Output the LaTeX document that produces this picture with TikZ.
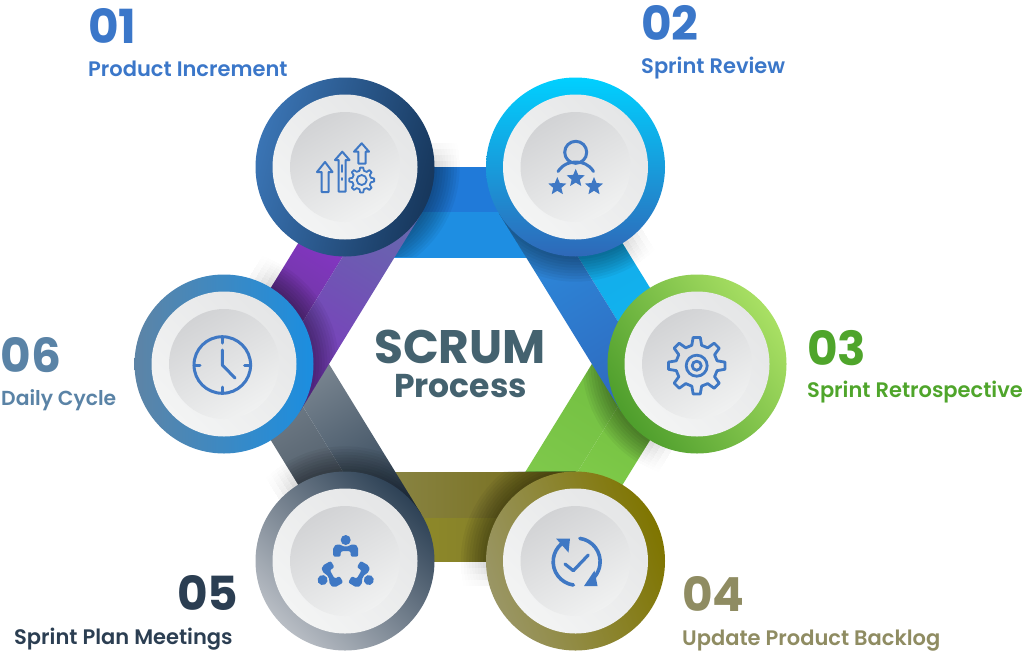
\documentclass[tikz,border=0pt]{standalone}
\usepackage{fontspec}
\setmainfont{Poppins}
\newfontfamily\labfont{Poppins SemiBold}
\usetikzlibrary{calc}
\definecolor{iconblue}{HTML}{3F78C4}
\definecolor{E6}{HTML}{E5E6E7}\definecolor{F2}{HTML}{F3F4F4}
\definecolor{D2}{HTML}{D2D3D5}\definecolor{F0}{HTML}{F0F1F1}
\definecolor{ta}{HTML}{1F78D8}\definecolor{tb}{HTML}{1E8EE2}
\definecolor{pa}{HTML}{9234D8}\definecolor{pb}{HTML}{5F3A8C}\definecolor{pc}{HTML}{6767AE}\definecolor{pd}{HTML}{7D38BE}
\definecolor{ba}{HTML}{15A5E8}\definecolor{bb}{HTML}{10B8F0}\definecolor{bc}{HTML}{2C8EDF}\definecolor{bd}{HTML}{2F6BC0}
\definecolor{ga}{HTML}{6DBB3A}\definecolor{gb}{HTML}{86D050}\definecolor{gc}{HTML}{6FBD3E}\definecolor{gd}{HTML}{82CB4E}
\definecolor{oa}{HTML}{8E8A4E}\definecolor{ob}{HTML}{736A15}\definecolor{oc}{HTML}{96912A}\definecolor{od}{HTML}{7C7728}
\definecolor{ya}{HTML}{7F8A94}\definecolor{yb}{HTML}{3E4C5A}\definecolor{yc}{HTML}{8A949D}\definecolor{yd}{HTML}{2E4256}
\definecolor{r1a}{HTML}{3A74B4}\definecolor{r1b}{HTML}{17375C}
\definecolor{r2a}{HTML}{00D0FF}\definecolor{r2b}{HTML}{2F68B8}
\definecolor{r3a}{HTML}{A9E064}\definecolor{r3b}{HTML}{4E9E2C}
\definecolor{r4a}{HTML}{9A9665}\definecolor{r4b}{HTML}{7F7500}
\definecolor{r5a}{HTML}{B8BDC4}\definecolor{r5b}{HTML}{2E4256}
\definecolor{r6a}{HTML}{5D84A6}\definecolor{r6b}{HTML}{1B8EE0}
\definecolor{t1}{HTML}{3B77C9}\definecolor{t3}{HTML}{4FA52B}\definecolor{t4}{HTML}{8F8C62}
\definecolor{t5}{HTML}{2B3E52}\definecolor{t6}{HTML}{5A83A6}\definecolor{tc}{HTML}{44626F}
\tikzset{
  ring/.style={circle,inner sep=0pt,minimum size=179pt},
  outerdisc/.style={circle,inner sep=0pt,minimum size=145pt,top color=E6,bottom color=F2,shading angle=-45},
  innerdisc/.style={circle,inner sep=0pt,minimum size=110pt,top color=D2,bottom color=F0,shading angle=30},
  ico/.style={draw=iconblue,line width=2.6pt,line cap=round,line join=round},
  icofill/.style={fill=iconblue,draw=none},
  numtxt/.style={anchor=base west,inner sep=0pt,font=\fontsize{47}{47}\selectfont\bfseries},
  labtxt/.style={anchor=base west,inner sep=0pt,font=\fontsize{21}{21}\selectfont\labfont},
}
% A, B, nx, ny, w0, w1
\newcommand{\bandpath}[6]{($(#1)+(#5*#3,#5*#4)$) -- ($(#2)+(#5*#3,#5*#4)$) -- ($(#2)+(#6*#3,#6*#4)$) -- ($(#1)+(#6*#3,#6*#4)$) -- cycle}
% centre, A, B, nx, ny  : dark shadow on a band
\newcommand{\bandshadow}[5]{\begin{scope}\clip \bandpath{#2}{#3}{#4}{#5}{0}{89.5};
  \foreach \k in {0,...,9}{\fill[black,opacity=.045] (#1) circle ({89.5+\k*2.8});}\end{scope}}
% centre, A, B, nx, ny : faint halo just outside a band
\newcommand{\bandhalo}[5]{\foreach \w in {-6,-12,-18,-24}{\begin{scope}\clip \bandpath{#2}{#3}{#4}{#5}{\w}{0};
  \foreach \k in {0,...,9}{\fill[black,opacity=.005] (#1) circle ({89.5+\k*2.8});}\end{scope}}}
\newcommand{\cogicon}[5]{%
  \foreach \i in {1,...,#5}{
    \pgfmathsetmacro{\st}{360/#5}
    \pgfmathsetmacro{\aa}{(\i-1)*\st-0.30*\st}
    \pgfmathsetmacro{\ab}{(\i-1)*\st-0.16*\st}
    \pgfmathsetmacro{\ac}{(\i-1)*\st+0.16*\st}
    \pgfmathsetmacro{\ad}{(\i-1)*\st+0.30*\st}
    \pgfmathsetmacro{\ae}{\i*\st-0.30*\st}
    \draw[ico] ($(#1,#2)+(\aa:#4)$) -- ($(#1,#2)+(\ab:#3)$) -- ($(#1,#2)+(\ac:#3)$) -- ($(#1,#2)+(\ad:#4)$) -- ($(#1,#2)+(\ae:#4)$);
  }}
\newcommand{\starshape}[3]{%
  \fill[icofill] ($(#1,#2)+(-90:#3)$) -- ($(#1,#2)+(-54:#3*0.45)$) -- ($(#1,#2)+(-18:#3)$) -- ($(#1,#2)+(18:#3*0.45)$) -- ($(#1,#2)+(54:#3)$) -- ($(#1,#2)+(90:#3*0.45)$) -- ($(#1,#2)+(126:#3)$) -- ($(#1,#2)+(162:#3*0.45)$) -- ($(#1,#2)+(198:#3)$) -- ($(#1,#2)+(234:#3*0.45)$) -- cycle;}
\begin{document}
\begin{tikzpicture}[x=1pt,y=-1pt]
\useasboundingbox (0,0) rectangle (1024,651);
\coordinate (p1) at (345,167);
\coordinate (p2) at (575.5,167);
\coordinate (p3) at (697,364);
\coordinate (p4) at (575.5,561);
\coordinate (p5) at (345,561);
\coordinate (p6) at (224,364);
% halos on the white ground
\bandhalo{p1}{p1}{p2}{0}{1}
\bandhalo{p2}{p2}{p3}{-0.852}{0.523}
\bandhalo{p3}{p3}{p4}{-0.852}{-0.523}
\bandhalo{p4}{p4}{p5}{0}{-1}
\bandhalo{p5}{p5}{p6}{0.852}{-0.523}
\bandhalo{p6}{p6}{p1}{0.852}{0.523}
% top band
\shade[top color=ta,bottom color=ta!85!bc,shading angle=90] \bandpath{p1}{p2}{0}{1}{0}{45};
\shade[top color=tb,bottom color=tb,shading angle=90] \bandpath{p1}{p2}{0}{1}{45}{90};
\bandshadow{p1}{p1}{p2}{0}{1}
% green band
\shade[top color=ga,bottom color=gb,shading angle=-31.6] \bandpath{p3}{p4}{-0.852}{-0.523}{0}{45};
\shade[top color=gc,bottom color=gd,shading angle=-31.6] \bandpath{p3}{p4}{-0.852}{-0.523}{45}{89.5};
\bandshadow{p3}{p3}{p4}{-0.852}{-0.523}
% olive band
\shade[top color=oc,bottom color=od,shading angle=90] \bandpath{p5}{p4}{0}{-1}{0}{44};
\shade[top color=oa,bottom color=ob,shading angle=90] \bandpath{p5}{p4}{0}{-1}{44}{89};
\bandshadow{p4}{p5}{p4}{0}{-1}
% gray band
\shade[top color=ya,bottom color=yb,shading angle=31.6] \bandpath{p6}{p5}{0.852}{-0.523}{0}{45};
\shade[top color=yc,bottom color=yd,shading angle=31.6] \bandpath{p6}{p5}{0.852}{-0.523}{45}{89.5};
\bandshadow{p5}{p6}{p5}{0.852}{-0.523}
% purple band
\shade[top color=pa,bottom color=pb,shading angle=-31.6] \bandpath{p1}{p6}{0.852}{0.523}{0}{45};
\shade[top color=pc,bottom color=pd,shading angle=-31.6] \bandpath{p1}{p6}{0.852}{0.523}{45}{89.5};
\bandshadow{p6}{p1}{p6}{0.852}{0.523}
% blue band
\shade[top color=ba,bottom color=bb,shading angle=31.6] \bandpath{p2}{p3}{-0.852}{0.523}{0}{45};
\shade[top color=bc,bottom color=bd,shading angle=31.6] \bandpath{p2}{p3}{-0.852}{0.523}{45}{89.5};
\bandshadow{p2}{p2}{p3}{-0.852}{0.523}
% rings
\node[ring,top color=r1a,bottom color=r1b,shading angle=75] (c1) at (p1) {};
\node[ring,top color=r2a,bottom color=r2b,shading angle=0] (c2) at (p2) {};
\node[ring,top color=r3a,bottom color=r3b,shading angle=-55] (c3) at (p3) {};
\node[ring,top color=r4a,bottom color=r4b,shading angle=110] (c4) at (p4) {};
\node[ring,top color=r5a,bottom color=r5b,shading angle=135] (c5) at (p5) {};
\node[ring,top color=r6a,bottom color=r6b,shading angle=90] (c6) at (p6) {};
\foreach \n in {1,...,6}{
  \node[outerdisc] (d\n) at (p\n) {};
  \node[innerdisc] (e\n) at (p\n) {};
}
% icon 1: arrows and cog
\draw[ico,line width=2pt] (321.7,192) -- (321.7,172) -- (317,172) -- (325,162) -- (332.5,172) -- (328.5,172) -- (328.5,192) -- cycle;
\draw[ico,line width=2pt] (338.7,191.5) -- (338.7,160) -- (335,160) -- (342.3,151.7) -- (349.5,160) -- (345.5,160) -- (345.5,191.5) -- cycle;
\draw[ico,line width=1.6pt] (342.2,165) -- (342.2,172) (342.2,178) -- (342.2,180);
\draw[ico,line width=2pt] (358.3,163.5) -- (358.3,151.7) -- (354,151.7) -- (361.7,143.3) -- (369,151.7) -- (365.7,151.7) -- (365.7,163.5) -- cycle;
\begin{scope}[ico/.append style={line width=1.8pt}]
\cogicon{361.7}{180}{12.5}{9.5}{8}
\draw[ico] (361.7,180) circle (5);
\end{scope}
% icon 2: person and stars
\draw[ico,line width=3pt] (575.7,152.3) circle (11);
\draw[ico,line width=3pt] (558,171.5) .. controls (563,164) and (570,162) .. (575.7,162) .. controls (582,162) and (589,164) .. (593.5,171.5);
\starshape{575.7}{178.3}{9.5}
\starshape{557.3}{186.5}{9.5}
\starshape{594}{186.5}{9.5}
% icon 3: gear
\begin{scope}[ico/.append style={line width=2.8pt}]
\cogicon{696.7}{365.7}{28.5}{21}{8}
\draw[ico] (696.7,365.7) circle (10.5);
\draw[ico] (696.7,365.7) circle (4.5);
\end{scope}
% icon 4: cycle and check
\draw[ico,line width=3.6pt] (579.9,538.4) arc (-82:40:23.5);
\draw[ico,line width=3.6pt] (573.4,585) arc (98:228:23.5);
\fill[icofill] (584,586) -- (597.5,586) -- (594.5,570.5) -- cycle;
\fill[icofill] (556,538.5) -- (570,538.5) -- (568.5,552.5) -- cycle;
\draw[ico,line width=3.2pt] (565,564) -- (573.3,570.7) -- (588.3,555);
% icon 5: three people
\foreach \rot in {0,120,240}{
  \begin{scope}[shift={(345.7,566.7)},rotate=\rot]
    \fill[icofill] (0,-26.7) circle (5);
    \fill[icofill,rounded corners=2pt] (-12.5,-10) -- (-12.5,-20) -- (-8,-23) -- (0,-19.5) -- (8,-23) -- (12.5,-20) -- (12.5,-10) -- (5,-10) -- (5,-15.5) -- (-5,-15.5) -- (-5,-10) -- cycle;
  \end{scope}
}
% icon 6: clock
\draw[ico,line width=3pt] (222.3,365) circle (28.3);
\draw[ico,line width=3pt] (222.3,337) -- (222.3,343) (222.3,393) -- (222.3,387) (194,365) -- (200,365) (250.6,365) -- (244.6,365);
\draw[ico,line width=3pt] (222.3,350) -- (222.3,365) -- (235,378);
% texts
\node[numtxt,text=t1] (n1) at (88,43) {01};
\node[labtxt,text=t1] (l1) at (88,76) {Product Increment};
\node[numtxt,text=t1] (n2) at (641,40) {02};
\node[labtxt,text=t1] (l2) at (641,73.5) {Sprint Review};
\node[numtxt,text=t3] (n3) at (807,365) {03};
\node[labtxt,text=t3] (l3) at (807,397) {Sprint Retrospective};
\node[numtxt,text=t4] (n4) at (682,611) {04};
\node[labtxt,text=t4] (l4) at (682,645) {Update Product Backlog};
\node[numtxt,text=t5] (n5) at (177,610) {05};
\node[labtxt,text=t5] (l5) at (14,644) {Sprint Plan Meetings};
\node[numtxt,text=t6] (n6) at (0.5,372) {06};
\node[labtxt,text=t6,font=\fontsize{20.3}{20.3}\selectfont\labfont] (l6) at (1,405) {Daily Cycle};
\node[anchor=base,inner sep=0pt,text=tc,font=\fontsize{47}{47}\selectfont\bfseries] (sc) at (460,363.5) {SCRUM};
\node[anchor=base,inner sep=0pt,text=tc,font=\fontsize{33}{33}\selectfont\bfseries] (pr) at (460.5,397) {Process};
\end{tikzpicture}
\end{document}
